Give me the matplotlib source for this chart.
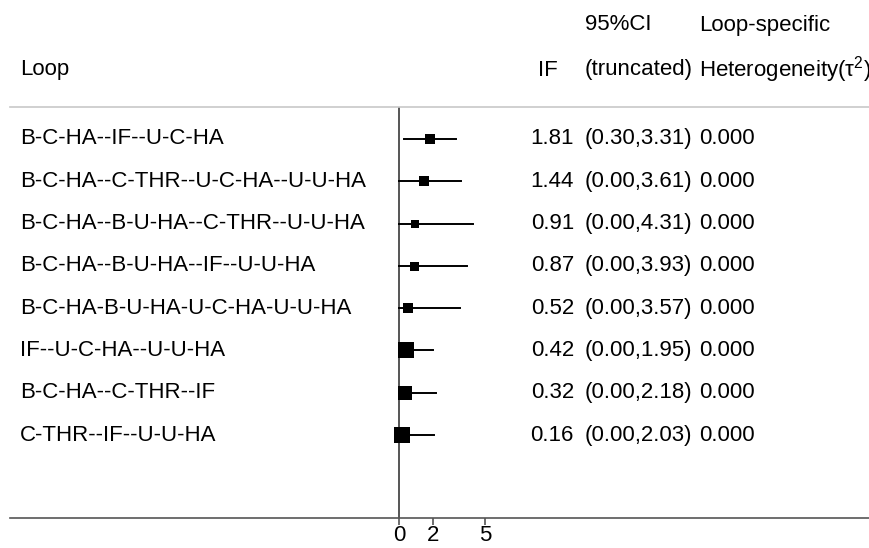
import matplotlib
matplotlib.use("Agg")
import matplotlib.pyplot as plt
from matplotlib.transforms import blended_transform_factory

plt.rcParams['font.family'] = ['Liberation Sans', 'DejaVu Sans']
plt.rcParams['mathtext.fontset'] = 'custom'
plt.rcParams['mathtext.rm'] = 'Liberation Sans'
plt.rcParams['mathtext.it'] = 'Liberation Sans'

loops = ["B-C-HA--IF--U-C-HA", "B-C-HA--C-THR--U-C-HA--U-U-HA",
         "B-C-HA--B-U-HA--C-THR--U-U-HA", "B-C-HA--B-U-HA--IF--U-U-HA",
         "B-C-HA-B-U-HA-U-C-HA-U-U-HA", "IF--U-C-HA--U-U-HA",
         "B-C-HA--C-THR--IF", "C-THR--IF--U-U-HA"]
IF = [1.81, 1.44, 0.91, 0.87, 0.52, 0.42, 0.32, 0.16]
lo = [0.30, 0.00, 0.00, 0.00, 0.00, 0.00, 0.00, 0.00]
hi = [3.31, 3.61, 4.31, 3.93, 3.57, 1.95, 2.18, 2.03]
tau2 = [0.000] * 8
weights = [10.7, 9.7, 8.3, 9.0, 9.7, 16.0, 14.7, 15.3]  # box side, px
xticks = [0, 2, 5]

W, H = 870, 548
fig = plt.figure(figsize=(W / 100, H / 100), dpi=100)
ax = fig.add_axes([10 / W, (H - 518) / H, 860 / W, 411 / H])

# x scale: 0 at px 399, ~17.2 px per unit
ax.set_xlim((10 - 399) / 17.2, (870 - 399) / 17.2)
ax.set_ylim((518 - 139) / 42.3, (107 - 139) / 42.3)

for s in ["left", "right"]:
    ax.spines[s].set_visible(False)
ax.spines["top"].set_color("#c8c8c8")
ax.spines["top"].set_linewidth(1.2)
ax.spines["bottom"].set_color("#555555")
ax.spines["bottom"].set_linewidth(1.2)
ax.set_yticks([])
ax.set_xticks(xticks)
ax.set_xticklabels([str(t) for t in xticks])
ax.tick_params(axis="x", length=5, width=1.2, color="#555555", pad=0, labelsize=16)

ax.axvline(0, color="#555555", lw=1.4, zorder=1)

for i in range(len(loops)):
    ax.plot([lo[i], hi[i]], [i, i], color="black", lw=1.4, zorder=2)
    ax.plot(IF[i], i, marker="s", ms=weights[i] * 0.72, color="black",
            mec="black", mew=0, zorder=3)

tr = blended_transform_factory(fig.transFigure, ax.transData)
fs = 16
for i in range(len(loops)):
    ax.text(20 / W, i, loops[i], transform=tr, fontsize=fs, va="center", ha="left")
    ax.text(574 / W, i, f"{IF[i]:.2f}", transform=tr, fontsize=fs, va="center", ha="right")
    ax.text(585 / W, i, f"({lo[i]:.2f},{hi[i]:.2f})", transform=tr, fontsize=fs,
            va="center", ha="left")
    ax.text(699 / W, i, f"{tau2[i]:.3f}", transform=tr, fontsize=fs, va="center", ha="left")

def ft(x, y, s, **kw):
    fig.text(x / W, 1 - y / H, s, fontsize=fs, va="center", **kw)

ft(20, 70, "Loop")
ft(538, 70, "IF")
ft(585, 25, "95%CI")
ft(585, 70, "(truncated)")
ft(699, 25, "Loop-specific")
ft(699, 70, "Heterogeneity(τ$^2$)")

fig.savefig("out.png", dpi=100)
